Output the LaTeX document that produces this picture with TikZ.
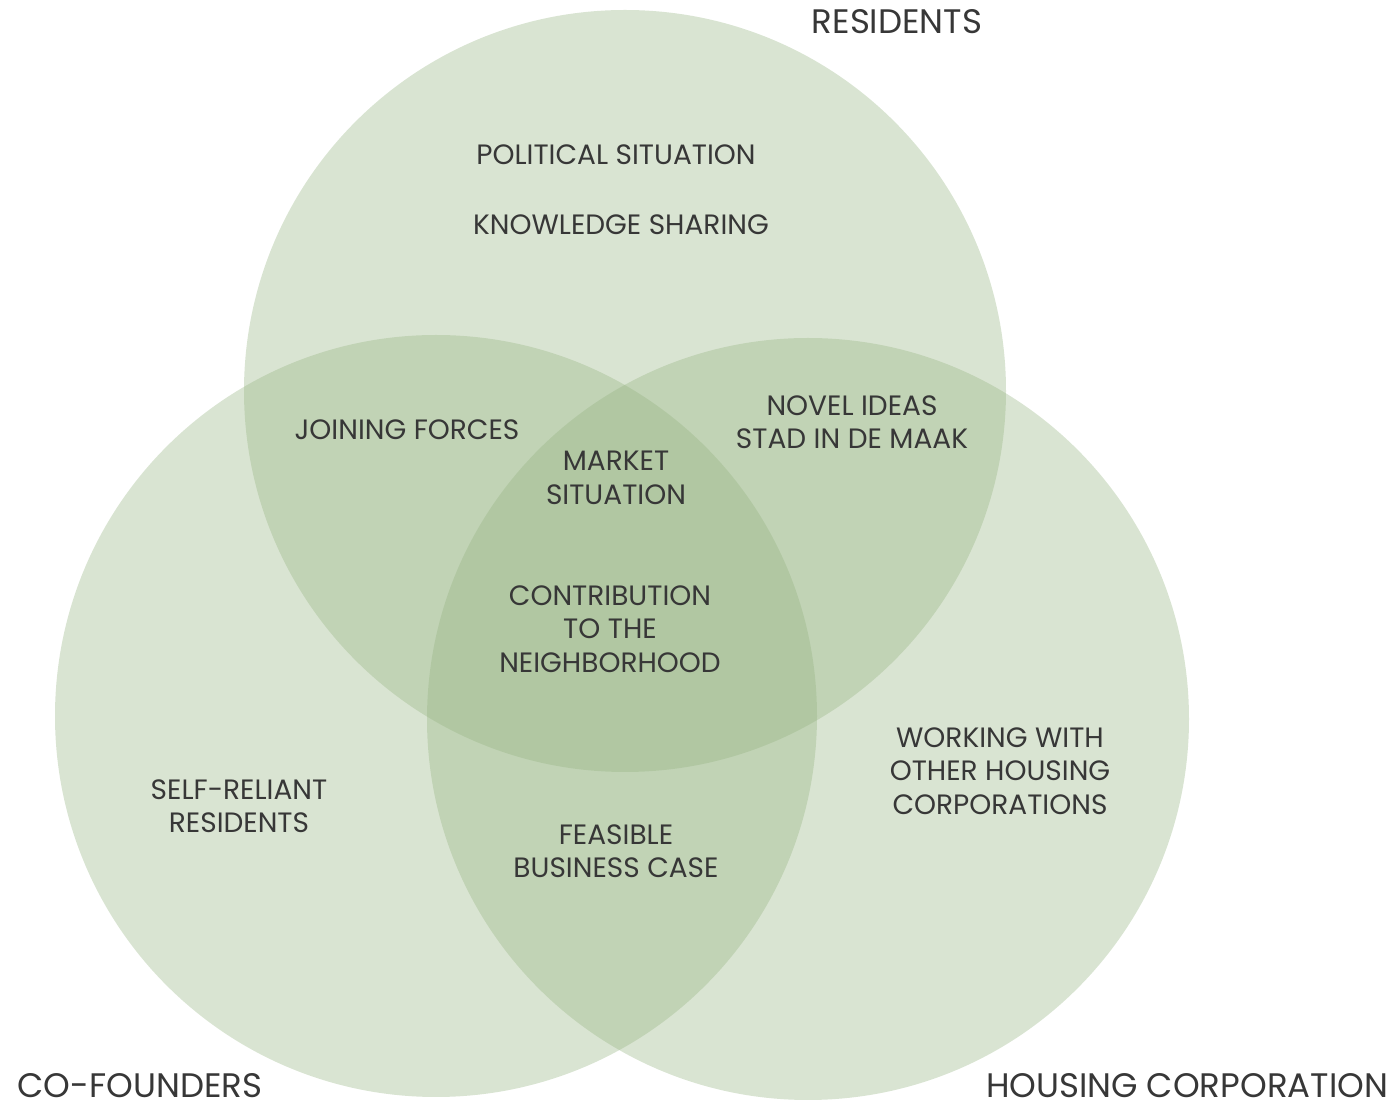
\documentclass[tikz,border=0pt]{standalone}
\usepackage{fontspec}
\setmainfont{Poppins}
\definecolor{setgreen}{RGB}{150,180,130}
\definecolor{labelgray}{RGB}{55,55,55}
\begin{document}
\begin{tikzpicture}[x=0.5pt, y=-0.5pt,
  set/.style={circle, fill=setgreen, fill opacity=0.36, inner sep=0pt, minimum size=381pt},
  lbl/.style={text=labelgray, align=center, inner sep=0pt, font=\fontsize{14}{16.7}\selectfont},
  title/.style={text=labelgray, inner sep=0pt, anchor=base, text depth=0pt, font=\fontsize{17}{18}\selectfont}]
  \useasboundingbox (0,0) rectangle (1394,1111);

  % the three sets
  \node[set] (residents) at (625,391) {};
  \node[set] (cofounders) at (436,716) {};
  \node[set] (housing) at (808,719) {};

  % set names
  \node[title] (tres) at (897,34) {RESIDENTS};
  \node[title] (tcof) at (140,1098) {CO-FOUNDERS};
  \node[title] (thou) at (1187,1098) {HOUSING CORPORATION};

  % labels
  \node[lbl] (polit) at (616,155) {POLITICAL SITUATION};
  \node[lbl] (know) at (621,225) {KNOWLEDGE SHARING};
  \node[lbl] (join) at (407,430) {JOINING FORCES};
  \node[lbl] (market) at (616,478) {MARKET\\SITUATION};
  \node[lbl] (novel) at (852,422) {NOVEL IDEAS\\STAD IN DE MAAK};
  \node[lbl] (contrib) at (610,629) {CONTRIBUTION\\TO THE\\NEIGHBORHOOD};
  \node[lbl] (working) at (1000,771) {WORKING WITH\\OTHER HOUSING\\CORPORATIONS};
  \node[lbl] (self) at (239,806) {SELF-RELIANT\\RESIDENTS};
  \node[lbl] (feasible) at (616,851) {FEASIBLE\\BUSINESS CASE};
\end{tikzpicture}
\end{document}
